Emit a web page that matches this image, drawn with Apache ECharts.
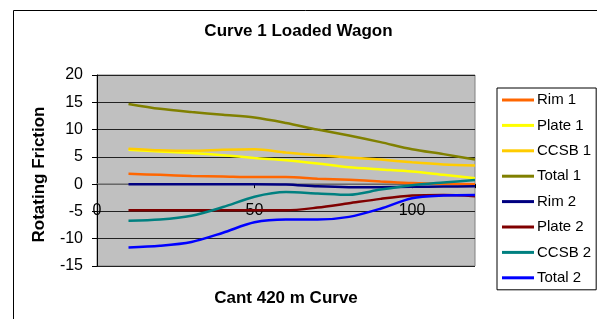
<!DOCTYPE html>
<html>
<head>
<meta charset="utf-8">
<script src="https://cdn.jsdelivr.net/npm/echarts@6/dist/echarts.min.js"></script>
<style>html,body{margin:0;padding:0;background:#fff;}#c{width:597px;height:319px;}</style>
</head>
<body>
<div id="c"></div>
<script>
const xValues = [10, 20, 30, 40, 50, 60, 70, 80, 90, 100, 110, 120];
const rim1   = [1.9, 1.7, 1.5, 1.4, 1.3, 1.3, 1.0, 0.8, 0.5, 0.2, 0.05, 0.0];
const plate1 = [6.3, 6.0, 5.7, 5.3, 4.8, 4.4, 3.8, 3.1, 2.7, 2.3, 1.7, 1.1];
const ccsb1  = [6.5, 6.2, 6.1, 6.3, 6.4, 5.8, 5.3, 4.9, 4.5, 4.0, 3.6, 3.4];
const total1 = [14.7, 13.8, 13.2, 12.7, 12.2, 11.2, 10.0, 8.9, 7.7, 6.4, 5.5, 4.5];
const rim2   = [0, 0, 0, 0, 0, -0.05, -0.4, -0.55, -0.55, -0.5, -0.45, -0.4];
const plate2 = [-4.8, -4.8, -4.8, -4.8, -4.8, -4.8, -4.3, -3.5, -2.7, -2.1, -2.0, -2.2];
const ccsb2  = [-6.7, -6.5, -5.8, -4.2, -2.3, -1.45, -1.7, -1.95, -1.0, -0.2, 0.3, 0.75];
const total2 = [-11.6, -11.3, -10.6, -8.9, -7.0, -6.5, -6.5, -6.0, -4.5, -2.6, -2.1, -2.0];

const seriesNames = ['Rim 1', 'Plate 1', 'CCSB 1', 'Total 1', 'Rim 2', 'Plate 2', 'CCSB 2', 'Total 2'];
const seriesData = [rim1, plate1, ccsb1, total1, rim2, plate2, ccsb2, total2];
const colors = ['#FF6600', '#FFFF00', '#FFCC00', '#808000', '#000080', '#800000', '#008080', '#0000FF'];

const xMin = 0, xMax = 120, xInterval = 50;
const yMin = -15, yMax = 20, yInterval = 5;
const gridLeft = 97, gridTop = 75, gridWidth = 378, gridHeight = 191;
// place the x axis on the y = 0 line
const xAxisOffset = -gridHeight * (0 - yMin) / (yMax - yMin);

const FONT = '"Liberation Sans", Arial, sans-serif';
const chart = echarts.init(document.getElementById('c'), null, {renderer: 'canvas'});
chart.setOption({
  animation: false,
  backgroundColor: '#ffffff',
  color: colors,
  title: {
    text: 'Curve 1 Loaded Wagon',
    left: 'center',
    top: 23,
    padding: 0,
    textStyle: {fontFamily: FONT, fontSize: 17, fontWeight: 'bold', color: '#000'}
  },
  graphic: [
    {type: 'rect', shape: {x: 13.5, y: 10.5, width: 700, height: 400}, style: {fill: null, stroke: '#000', lineWidth: 1}, silent: true, z: -1},
    {type: 'text', x: 286, y: 298, style: {text: 'Cant 420 m Curve', font: 'bold 17px ' + FONT, fill: '#000', textAlign: 'center', textVerticalAlign: 'middle'}}
  ],
  legend: {
    orient: 'vertical',
    left: 497,
    top: 88,
    padding: [4, 5, 4, 5],
    itemWidth: 32,
    itemHeight: 3,
    itemGap: 9.4,
    icon: 'rect',
    borderColor: '#000',
    borderWidth: 1,
    backgroundColor: '#fff',
    textStyle: {fontFamily: FONT, fontSize: 15, color: '#000', lineHeight: 16, padding: [0, 0, 0, -2]},
    data: seriesNames
  },
  grid: {
    left: gridLeft, top: gridTop, width: gridWidth, height: gridHeight,
    show: true, backgroundColor: '#C0C0C0', borderColor: '#808080', borderWidth: 1,
    containLabel: false
  },
  xAxis: {
    type: 'value',
    min: xMin, max: xMax, interval: xInterval,
    position: 'bottom',
    offset: xAxisOffset,
    axisLine: {show: true, onZero: false, lineStyle: {color: '#808080', width: 1.5}},
    axisTick: {show: true, length: 4, lineStyle: {color: '#000'}},
    axisLabel: {
      fontFamily: FONT, fontSize: 16, color: '#000', margin: 18,
      formatter: v => (v % xInterval === 0 ? String(v) : '')
    },
    splitLine: {show: false}
  },
  yAxis: {
    type: 'value',
    min: yMin, max: yMax, interval: yInterval,
    name: 'Rotating Friction',
    nameLocation: 'middle',
    nameGap: 49,
    nameTextStyle: {fontFamily: FONT, fontSize: 17, fontWeight: 'bold', color: '#000', padding: [0, 0, 0, -8]},
    axisLine: {show: true, onZero: false, lineStyle: {color: '#000', width: 1}},
    axisTick: {show: true, length: 5, lineStyle: {color: '#000'}},
    axisLabel: {fontFamily: FONT, fontSize: 16, color: '#000', margin: 14},
    splitLine: {show: true, lineStyle: {color: '#222', width: 1}}
  },
  series: seriesNames.map((name, i) => ({
    name: name,
    type: 'line',
    data: xValues.map((x, j) => [x, seriesData[i][j]]),
    smooth: 0.3,
    showSymbol: false,
    symbol: 'none',
    lineStyle: {width: 2.5, color: colors[i]},
    itemStyle: {color: colors[i]}
  }))
});
</script>
</body>
</html>
